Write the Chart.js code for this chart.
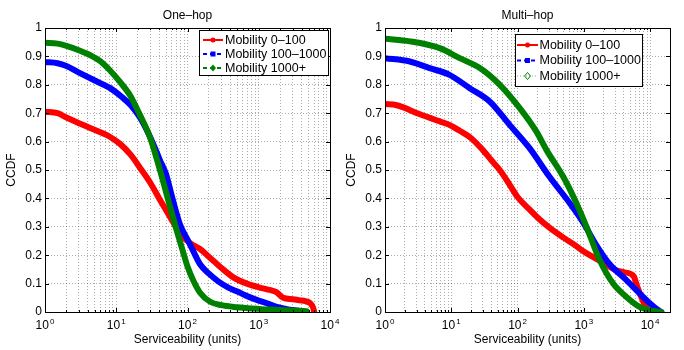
<!DOCTYPE html>
<html>
<head>
<meta charset="utf-8">
<script src="https://cdn.jsdelivr.net/npm/chart.js@4.4.1/dist/chart.umd.min.js"></script>
<style>
    body { margin: 0; background: #fff; }
    #wrap { position: relative; width: 684px; height: 350px; }
    canvas { position: absolute; top: 0; }
    #oneHop { left: 0; }
    #multiHop { left: 342px; }
</style>
</head>
<body>
<div id="wrap">
    <canvas id="oneHop" width="342" height="350"></canvas>
    <canvas id="multiHop" width="342" height="350"></canvas>
</div>
<script>
// One-hop: serviceability (units) vs CCDF
const oneHopLowX  = [1, 1.5, 2, 3, 4.3, 8, 11.3, 16, 21.5, 30, 40, 51, 65, 78, 100, 121, 150, 208, 257, 300, 440, 680, 1000, 1300, 1770, 2200, 3000, 3800, 4500, 5300, 5800, 6000];
const oneHopLowY  = [0.705, 0.70, 0.685, 0.665, 0.648, 0.618, 0.592, 0.553, 0.508, 0.455, 0.40, 0.355, 0.31, 0.277, 0.25, 0.235, 0.222, 0.19, 0.17, 0.155, 0.122, 0.10, 0.087, 0.08, 0.07, 0.05, 0.045, 0.041, 0.038, 0.03, 0.015, 0.0];
const oneHopMidX  = [1, 1.5, 2, 3, 5, 8, 12, 16, 21.5, 30, 41, 50, 60, 78, 100, 120, 150, 200, 270, 380, 500, 700, 1000, 1400, 1800, 2500, 3200, 4200];
const oneHopMidY  = [0.88, 0.876, 0.866, 0.843, 0.815, 0.79, 0.757, 0.728, 0.685, 0.615, 0.535, 0.485, 0.41, 0.31, 0.255, 0.215, 0.168, 0.135, 0.108, 0.085, 0.072, 0.055, 0.04, 0.028, 0.018, 0.01, 0.006, 0.002];
const oneHopHighX = [1, 1.5, 2, 3.1, 4.5, 5.9, 8, 11.3, 15.6, 21.5, 30, 41, 57, 70, 87, 100, 121, 150, 208, 300, 490, 1000, 2000, 3500, 4700];
const oneHopHighY = [0.948, 0.945, 0.937, 0.92, 0.902, 0.884, 0.853, 0.81, 0.763, 0.694, 0.613, 0.50, 0.37, 0.29, 0.21, 0.16, 0.11, 0.068, 0.036, 0.024, 0.017, 0.011, 0.007, 0.004, 0.003];

// Multi-hop
const multiHopLowX  = [1, 1.5, 3.3, 6, 9.4, 13.4, 20, 30, 40, 54, 75, 100, 150, 200, 300, 500, 740, 1000, 1480, 2000, 3000, 4000, 5000, 5700, 6300, 7500, 8800, 9500];
const multiHopLowY  = [0.732, 0.728, 0.697, 0.675, 0.659, 0.638, 0.612, 0.57, 0.535, 0.50, 0.45, 0.405, 0.362, 0.333, 0.298, 0.261, 0.235, 0.213, 0.19, 0.172, 0.148, 0.14, 0.135, 0.125, 0.094, 0.048, 0.013, 0];
const multiHopMidX  = [1, 2.37, 4.7, 9.4, 19, 38, 76, 152, 304, 615, 980, 1550, 2460, 4400, 6200, 10000, 13000, 14800];
const multiHopMidY  = [0.894, 0.882, 0.859, 0.835, 0.788, 0.741, 0.659, 0.577, 0.476, 0.383, 0.315, 0.235, 0.168, 0.112, 0.077, 0.03, 0.008, 0];
const multiHopHighX = [1, 2.37, 6.7, 13.4, 27, 54, 108, 193, 274, 490, 775, 1100, 1740, 2770, 4400, 6950, 10000, 12500, 14800];
const multiHopHighY = [0.962, 0.953, 0.929, 0.894, 0.859, 0.80, 0.718, 0.635, 0.57, 0.476, 0.383, 0.30, 0.182, 0.10, 0.053, 0.018, 0.006, 0.002, 0];

const seriesNames = ["Mobility 0\u2013100", "Mobility 100\u20131000", "Mobility 1000+"];
const seriesColors = ["#ff0000", "#0000ff", "#008000"];
const markerStyles = ["circle", "rect", "rectRot"];
const xDecades = [1, 10, 100, 1000, 10000];
const yTickValues = [0, 0.1, 0.2, 0.3, 0.4, 0.5, 0.6, 0.7, 0.8, 0.9, 1];

const FONT = '"Liberation Sans", Arial, Helvetica, sans-serif';

function toPoints(xs, ys) {
    return xs.map((x, i) => ({ x: x, y: ys[i] }));
}

function logTicks(max) {
    let out = [];
    for (let d = 1; d <= max; d *= 10) {
        for (let m = 1; m <= 9; m++) {
            if (m * d <= max + 1e-6) out.push({ value: m * d, major: m === 1 });
        }
    }
    return out;
}

function drawMarker(ctx, style, x, y, color, hollow) {
    ctx.setLineDash([]);
    ctx.fillStyle = color;
    ctx.strokeStyle = color;
    ctx.lineWidth = 1;
    ctx.beginPath();
    if (style === "circle") {
        ctx.arc(x, y, 2.5, 0, Math.PI * 2);
    } else if (style === "rect") {
        ctx.rect(x - 2.5, y - 2.5, 5, 5);
    } else {
        ctx.moveTo(x, y - 3.5);
        ctx.lineTo(x + 3, y);
        ctx.lineTo(x, y + 3.5);
        ctx.lineTo(x - 3, y);
        ctx.closePath();
    }
    if (hollow) ctx.stroke(); else ctx.fill();
}

// axes box, inward ticks, tick labels, titles and legend
const framePlugin = {
    id: "frame",
    afterDraw(chart) {
        const opts = chart.options.plugins.frame;
        const ctx = chart.ctx;
        const a = chart.chartArea;
        const xs = chart.scales.x;
        const ys = chart.scales.y;
        ctx.save();

        ctx.strokeStyle = "#000";
        ctx.lineWidth = 1;
        ctx.setLineDash([]);
        ctx.beginPath();
        xs.ticks.forEach(t => {
            const px = Math.round(xs.getPixelForValue(t.value)) + 0.5;
            const len = t.major ? 4 : 2;
            ctx.moveTo(px, a.bottom); ctx.lineTo(px, a.bottom - len);
            ctx.moveTo(px, a.top); ctx.lineTo(px, a.top + len);
        });
        ys.ticks.forEach(t => {
            const py = Math.round(ys.getPixelForValue(t.value)) + 0.5;
            ctx.moveTo(a.left, py); ctx.lineTo(a.left + 4, py);
            ctx.moveTo(a.right, py); ctx.lineTo(a.right - 4, py);
        });
        ctx.stroke();
        ctx.strokeRect(Math.round(a.left) + 0.5, Math.round(a.top) + 0.5,
            Math.round(a.right - a.left), Math.round(a.bottom - a.top));

        // 10^k labels
        ctx.fillStyle = "#000";
        ctx.textAlign = "left";
        ctx.textBaseline = "alphabetic";
        xDecades.forEach(v => {
            if (v > xs.max) return;
            const px = xs.getPixelForValue(v);
            const exp = String(Math.round(Math.log10(v)));
            ctx.font = "12px " + FONT;
            const w = ctx.measureText("10").width;
            ctx.font = "8px " + FONT;
            const we = ctx.measureText(exp).width;
            const x0 = px - (w + 1 + we) / 2;
            ctx.font = "12px " + FONT;
            ctx.fillText("10", x0, a.bottom + 17);
            ctx.font = "8px " + FONT;
            ctx.fillText(exp, x0 + w + 1, a.bottom + 12);
        });

        const cx = (a.left + a.right) / 2;
        ctx.font = "12px " + FONT;
        ctx.textAlign = "center";
        ctx.fillText(opts.title, cx, 19);
        ctx.fillText("Serviceability (units)", cx, 343);

        ctx.save();
        ctx.translate(opts.yLabelX, (a.top + a.bottom) / 2);
        ctx.rotate(-Math.PI / 2);
        ctx.fillText("CCDF", 0, 0);
        ctx.restore();

        // legend
        const lg = opts.legend;
        ctx.fillStyle = "#fff";
        ctx.fillRect(lg.x, lg.y, lg.w, lg.h);
        ctx.strokeStyle = "#000";
        ctx.lineWidth = 1;
        ctx.setLineDash([]);
        ctx.strokeRect(lg.x, lg.y, lg.w, lg.h);
        seriesNames.forEach((name, i) => {
            const y = lg.rows[i];
            const style = lg.lines[i];
            ctx.strokeStyle = style.color || seriesColors[i];
            ctx.lineWidth = style.width;
            ctx.setLineDash(style.dash);
            ctx.beginPath();
            ctx.moveTo(lg.lineX0, y);
            ctx.lineTo(lg.lineX1, y);
            ctx.stroke();
            drawMarker(ctx, markerStyles[i], (lg.lineX0 + lg.lineX1) / 2, y, seriesColors[i], style.hollow);
            ctx.fillStyle = "#000";
            ctx.font = "12.5px " + FONT;
            ctx.textAlign = "left";
            ctx.textBaseline = "middle";
            ctx.fillText(name, lg.textX, y + 0.5);
        });
        ctx.restore();
    }
};

function makeChart(id, series, xMax, area, frame) {
    const datasets = series.map((s, i) => ({
        label: seriesNames[i],
        data: toPoints(s[0], s[1]),
        borderColor: seriesColors[i],
        backgroundColor: seriesColors[i],
        borderWidth: 6,
        borderCapStyle: "round",
        borderJoinStyle: "round",
        cubicInterpolationMode: "monotone",
        pointStyle: markerStyles[i],
        pointRadius: c => (c.dataIndex === 0 ? 3 : 0),
        pointBorderWidth: 0,
        order: 3 - i
    }));

    return new Chart(document.getElementById(id), {
        type: "line",
        data: { datasets: datasets },
        plugins: [framePlugin],
        options: {
            responsive: false,
            animation: false,
            events: [],
            layout: { padding: { left: 0, top: area.top, right: area.right, bottom: 0 } },
            plugins: {
                legend: { display: false },
                tooltip: { enabled: false },
                frame: frame
            },
            scales: {
                x: {
                    type: "logarithmic",
                    min: 1,
                    max: xMax,
                    afterBuildTicks: scale => { scale.ticks = logTicks(xMax); },
                    afterFit: scale => { scale.height = 350 - area.bottom; },
                    ticks: { display: false },
                    grid: { color: "rgba(0,0,0,0.33)", drawTicks: false, lineWidth: 1 },
                    border: { display: false, dash: [1, 2] }
                },
                y: {
                    min: 0,
                    max: 1,
                    afterBuildTicks: scale => { scale.ticks = yTickValues.map(v => ({ value: v })); },
                    afterFit: scale => { scale.width = area.left; },
                    ticks: {
                        color: "#000",
                        padding: 3,
                        font: { family: FONT, size: 12 },
                        callback: v => String(Math.round(v * 10) / 10)
                    },
                    grid: { color: "rgba(0,0,0,0.33)", drawTicks: false, lineWidth: 1 },
                    border: { display: false, dash: [1, 2] }
                }
            }
        }
    });
}

makeChart("oneHop",
    [[oneHopLowX, oneHopLowY], [oneHopMidX, oneHopMidY], [oneHopHighX, oneHopHighY]],
    10000,
    { left: 45, right: 12, top: 28, bottom: 312 },
    {
        title: "One\u2013hop",
        yLabelX: 15,
        legend: {
            x: 199.5, y: 30.5, w: 129, h: 45,
            rows: [40, 54, 68],
            lineX0: 203, lineX1: 223, textX: 225,
            lines: [
                { width: 2, dash: [] },
                { width: 2, dash: [4, 3] },
                { width: 2, dash: [4, 3] }
            ]
        }
    });

makeChart("multiHop",
    [[multiHopLowX, multiHopLowY], [multiHopMidX, multiHopMidY], [multiHopHighX, multiHopHighY]],
    20000,
    { left: 43, right: 14, top: 28, bottom: 312 },
    {
        title: "Multi\u2013hop",
        yLabelX: 13,
        legend: {
            x: 173.5, y: 34.5, w: 127, h: 52,
            rows: [45, 60.5, 76],
            lineX0: 175, lineX1: 196, textX: 197.5,
            lines: [
                { width: 2, dash: [] },
                { width: 2, dash: [4, 3] },
                { width: 1, dash: [1, 2], color: "rgba(0,128,0,0.55)", hollow: true }
            ]
        }
    });
</script>
</body>
</html>
